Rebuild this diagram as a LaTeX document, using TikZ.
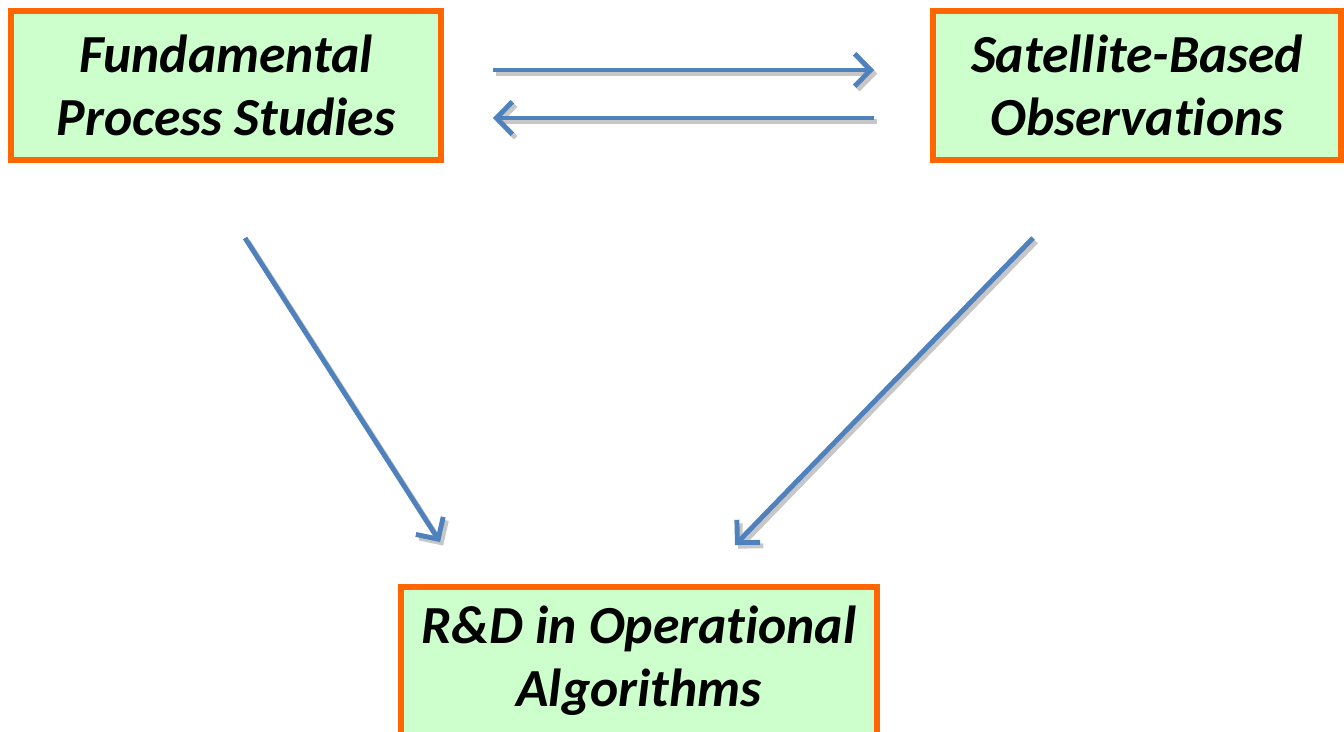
\documentclass[tikz,border=0pt]{standalone}
\usepackage{fontspec}
\setmainfont[Ligatures=NoCommon]{Carlito}
\usepackage{tikz}
\usetikzlibrary{arrows,arrows.meta,calc}
\definecolor{boxfill}{RGB}{204,255,204}
\definecolor{boxline}{RGB}{255,102,0}
\definecolor{flowblue}{RGB}{79,129,189}
\tikzset{
    topic/.style={draw=boxline, line width=3.4pt, fill=boxfill, align=center,
        inner sep=0pt, font=\fontsize{30.5}{36}\selectfont\bfseries\itshape},
    flow/.style={->, draw=flowblue, line width=2.8pt,
        preaction={draw=black!22, line width=2.8pt, transform canvas={shift={(1.8pt,-2pt)}}}}
}

\begin{document}
\begin{tikzpicture}[x=0.02cm, y=-0.02cm, >={Straight Barb[length=3.2mm, width=6.5mm, line width=2.8pt]}]
\useasboundingbox (0,0) rectangle (1344,731);
\node[topic, minimum width=8.6cm, minimum height=2.98cm] (fps) at (226,85.5) {Fundamental\\Process Studies};
\node[topic, minimum width=8.16cm, minimum height=2.98cm] (sbo) at (1137,85.5) {Satellite-Based\\Observations};
\node[topic, minimum width=9.52cm, minimum height=2.98cm] (rd) at (639,661) {R\&D in Operational\\Algorithms};
\draw[flow] ([xshift=0.98cm, yshift=0.31cm]fps.east) -- ([xshift=-1.12cm, yshift=0.31cm]sbo.west);
\draw[flow] ([xshift=-1.12cm, yshift=-0.65cm]sbo.west) -- ([xshift=0.98cm, yshift=-0.65cm]fps.east);
\draw[flow] ([xshift=0.38cm, yshift=-1.5cm]fps.south) -- ([xshift=-3.98cm, yshift=0.83cm]rd.north);
\draw[flow] ([xshift=-2.08cm, yshift=-1.5cm]sbo.south) -- ([xshift=1.92cm, yshift=0.77cm]rd.north);
\end{tikzpicture}
\end{document}
